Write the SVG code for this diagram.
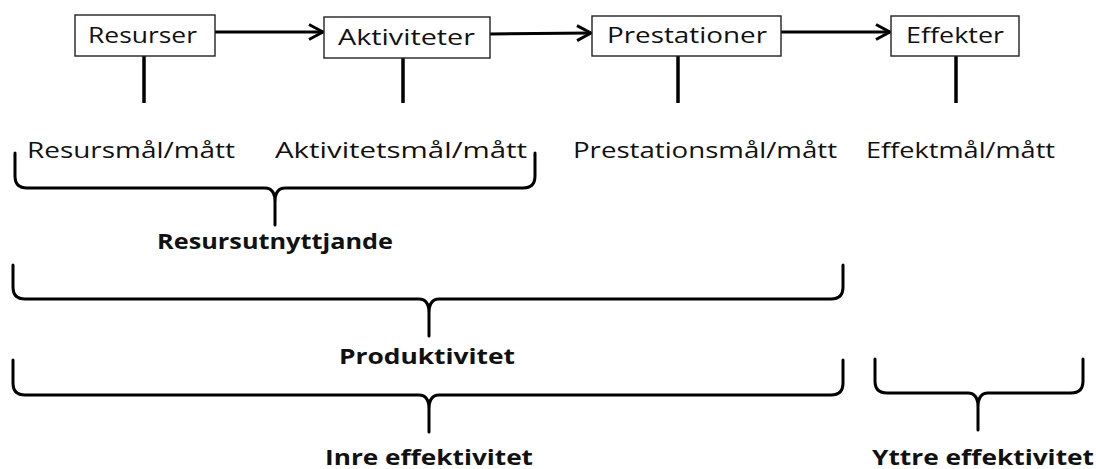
<svg xmlns="http://www.w3.org/2000/svg" width="1096" height="469" viewBox="0 0 1096 469">
<style>
.box{fill:#fff;stroke:#222;stroke-width:1.4}
.bt{font-family:"Open Sans","Noto Sans",sans-serif;font-size:21px;fill:#111}
.lt{font-family:"Open Sans","Noto Sans",sans-serif;font-size:22px;fill:#111}
.bl{font-family:"Open Sans","Noto Sans",sans-serif;font-size:21px;font-weight:bold;fill:#111}
.ln{stroke:#000;stroke-width:3;fill:none}
.tick{stroke:#000;stroke-width:3.5;fill:none}
.brace{stroke:#000;stroke-width:3;fill:none;stroke-linecap:round;stroke-linejoin:round}
</style>
<defs>
<marker id="arr" viewBox="0 0 20 20" refX="17" refY="10" markerWidth="20" markerHeight="20" markerUnits="userSpaceOnUse" orient="auto">
<path d="M3,2.5 L17,10 L3,17.5" fill="none" stroke="#000" stroke-width="3" stroke-linejoin="miter"/>
</marker>
</defs>
<rect width="1096" height="469" fill="#fff"/>

<g id="connectors">
<line class="ln" x1="215" y1="32" x2="323" y2="32" marker-end="url(#arr)"/>
<line class="ln" x1="490" y1="34" x2="591" y2="33" marker-end="url(#arr)"/>
<line class="ln" x1="781" y1="32" x2="890" y2="32" marker-end="url(#arr)"/>
<line class="tick" x1="144" y1="56" x2="144" y2="103"/>
<line class="tick" x1="403" y1="58" x2="403" y2="103"/>
<line class="tick" x1="678" y1="56" x2="678" y2="103"/>
<line class="tick" x1="956" y1="56" x2="956" y2="103"/>
</g>

<g id="node-resurser">
<rect class="box" x="75" y="15" width="140" height="41"/>
<text class="bt" x="88" y="43" textLength="109" lengthAdjust="spacingAndGlyphs">Resurser</text>
</g>
<g id="node-aktiviteter">
<rect class="box" x="324" y="17" width="166" height="41"/>
<text class="bt" x="338" y="45" textLength="137" lengthAdjust="spacingAndGlyphs">Aktiviteter</text>
</g>
<g id="node-prestationer">
<rect class="box" x="592" y="16" width="189" height="40"/>
<text class="bt" x="607" y="43" textLength="160" lengthAdjust="spacingAndGlyphs">Prestationer</text>
</g>
<g id="node-effekter">
<rect class="box" x="891" y="16" width="128" height="40"/>
<text class="bt" x="906" y="43" textLength="98" lengthAdjust="spacingAndGlyphs">Effekter</text>
</g>

<g id="measures">
<text class="lt" x="27" y="158" textLength="208" lengthAdjust="spacingAndGlyphs">Resursmål/mått</text>
<text class="lt" x="275" y="158" textLength="252" lengthAdjust="spacingAndGlyphs">Aktivitetsmål/mått</text>
<text class="lt" x="573" y="158" textLength="264" lengthAdjust="spacingAndGlyphs">Prestationsmål/mått</text>
<text class="lt" x="866" y="158" textLength="189" lengthAdjust="spacingAndGlyphs">Effektmål/mått</text>
</g>

<g id="brace-resursutnyttjande">
<path class="brace" d="M15,153 L15,176 Q15,188 27,188 L265,188 Q275,188 275,202 L275,225 M535,153 L535,176 Q535,188 523,188 L285,188 Q275,188 275,202"/>
<text class="bl" x="157" y="249" textLength="236" lengthAdjust="spacingAndGlyphs">Resursutnyttjande</text>
</g>

<g id="brace-produktivitet">
<path class="brace" d="M13,265 L13,287 Q13,299 25,299 L419,299 Q429,299 429,313 L429,336 M843,265 L843,287 Q843,299 831,299 L439,299 Q429,299 429,313"/>
<text class="bl" x="339" y="364" textLength="176" lengthAdjust="spacingAndGlyphs">Produktivitet</text>
</g>

<g id="brace-inre">
<path class="brace" d="M13,360 L13,383 Q13,395 25,395 L419,395 Q429,395 429,409 L429,432 M843,360 L843,383 Q843,395 831,395 L439,395 Q429,395 429,409"/>
<text class="bl" x="325" y="465" textLength="208" lengthAdjust="spacingAndGlyphs">Inre effektivitet</text>
</g>

<g id="brace-yttre">
<path class="brace" d="M875,359 L875,381 Q875,393 887,393 L968,393 Q978,393 978,407 L978,430 M1083,359 L1083,381 Q1083,393 1071,393 L988,393 Q978,393 978,407"/>
<text class="bl" x="872" y="465" textLength="222" lengthAdjust="spacingAndGlyphs">Yttre effektivitet</text>
</g>
</svg>
